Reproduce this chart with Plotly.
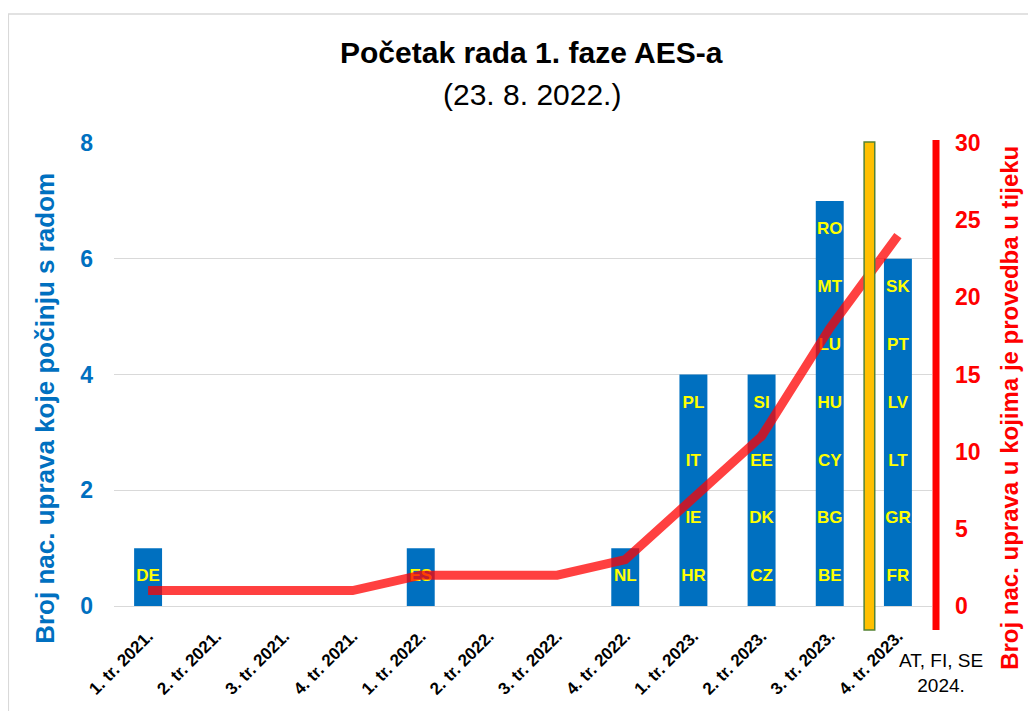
import plotly.graph_objects as go

categories = ["1. tr. 2021.", "2. tr. 2021.", "3. tr. 2021.", "4. tr. 2021.",
              "1. tr. 2022.", "2. tr. 2022.", "3. tr. 2022.", "4. tr. 2022.",
              "1. tr. 2023.", "2. tr. 2023.", "3. tr. 2023.", "4. tr. 2023."]
new_starts = [1, 0, 0, 0, 1, 0, 0, 1, 4, 4, 7, 6]
country_codes = [
    ["DE"], [], [], [], ["ES"], [], [], ["NL"],
    ["HR", "IE", "IT", "PL"],
    ["CZ", "DK", "EE", "SI"],
    ["BE", "BG", "CY", "HU", "LU", "MT", "RO"],
    ["FR", "GR", "LT", "LV", "PT", "SK"],
]
in_progress = [1, 1, 1, 1, 2, 2, 2, 3, 7, 11, 18, 24]

FONT = "Liberation Sans"
BLUE = "#0070C0"
RED = "#FF0000"

# label positions derived from the data (centre of each unit segment)
tx, ty, tt = [], [], []
for cat, codes in zip(categories, country_codes):
    for i, c in enumerate(codes):
        tx.append(cat)
        ty.append(i + 0.5)
        tt.append(c)

fig = go.Figure()
fig.add_trace(go.Bar(x=categories, y=new_starts, marker_color=BLUE,
                     marker_line_width=0, showlegend=False, hoverinfo="x+y"))
fig.add_trace(go.Scatter(x=tx, y=ty, text=tt, mode="text",
                         textfont=dict(family=FONT, size=17, color="#FFFF00", weight="bold"),
                         showlegend=False, hoverinfo="skip"))
fig.add_trace(go.Scatter(x=categories, y=in_progress, yaxis="y2", mode="lines",
                         line=dict(color="rgba(255,0,0,0.75)", width=9),
                         showlegend=False))

ann = dict(xref="paper", yref="paper", showarrow=False, xanchor="center", yanchor="middle")

fig.update_layout(
    width=1028, height=703,
    margin=dict(l=106, r=104, t=135, b=105),
    paper_bgcolor="white", plot_bgcolor="white",
    bargap=0.59,
    font=dict(family=FONT, color="black"),
    xaxis=dict(type="category", range=[-0.5, len(categories) - 0.5],
               tickangle=-45, tickfont=dict(size=17, weight="bold", color="black"),
               showline=False, showgrid=False, ticks="", automargin=False,
               ticklabelstandoff=16),
    yaxis=dict(range=[0, 8], dtick=2, showline=False, gridcolor="#D9D9D9",
               zeroline=True, zerolinecolor="#D9D9D9", zerolinewidth=1,
               tickfont=dict(size=23, weight="bold", color=BLUE),
               ticklabelstandoff=20, automargin=False),
    yaxis2=dict(range=[0, 30], dtick=5, overlaying="y", side="right",
                showgrid=False, zeroline=False, showline=False,
                tickfont=dict(size=23, weight="bold", color=RED),
                ticklabelstandoff=22, automargin=False),
    shapes=[
        dict(type="rect", xref="paper", yref="paper", x0=-0.1292, x1=1.2, y0=-0.3, y1=1.2786,
             line=dict(color="#D9D9D9", width=1.5), layer="below"),
        dict(type="rect", xref="paper", yref="paper", x0=0.917, x1=0.930, y0=-0.052, y1=1.002,
             fillcolor="#FFC000", line=dict(color="#548235", width=1.5), layer="above"),
        dict(type="line", xref="paper", yref="paper", x0=1.0049, x1=1.0049, y0=-0.052, y1=1.0065,
             line=dict(color=RED, width=7), layer="above"),
    ],
    annotations=[
        dict(ann, text="<b>Početak rada 1. faze AES-a</b>", x=0.511, y=1.1965,
             font=dict(size=30, color="black")),
        dict(ann, text="(23. 8. 2022.)", x=0.511, y=1.1037,
             font=dict(size=30, color="black")),
        dict(ann, text="<b>Broj nac. uprava koje počinju s radom</b>", x=-0.0844, y=0.428,
             textangle=-90, font=dict(size=26, color=BLUE)),
        dict(ann, text="<b>Broj nac. uprava u kojima je provedba u tijeku</b>", x=1.0954, y=0.428,
             textangle=-90, font=dict(size=24, color=RED)),
        dict(ann, text="AT, FI, SE<br>2024.", x=1.011, y=-0.1447,
             font=dict(size=19, color="black")),
    ],
)

fig.write_html("out.html")
